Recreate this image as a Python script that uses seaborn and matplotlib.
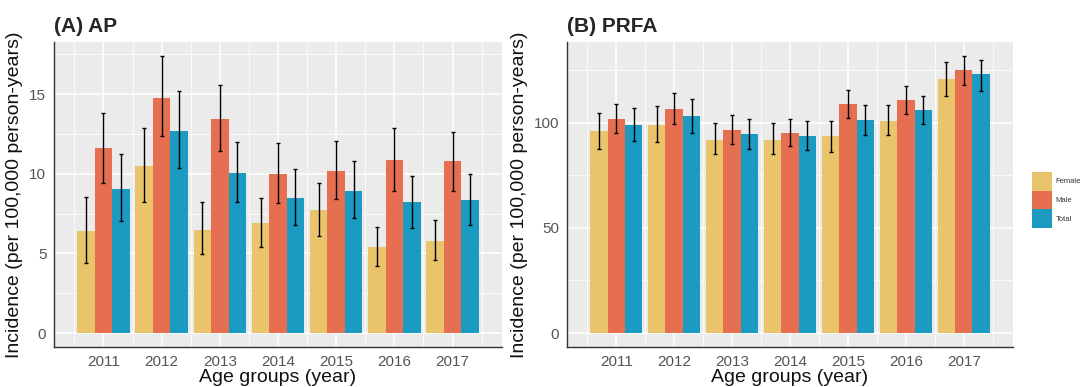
import numpy as np
import pandas as pd
import matplotlib
matplotlib.use("Agg")
import matplotlib.pyplot as plt
from matplotlib.ticker import MultipleLocator, FixedLocator
from matplotlib.patches import Patch
import seaborn as sns

years = ["2011", "2012", "2013", "2014", "2015", "2016", "2017"]
groups = ["Female", "Male", "Total"]
colors = ["#E9C46A", "#E76F51", "#1B9AC2"]

# (A) AP
ap_female = [6.4, 10.5, 6.5, 6.9, 7.7, 5.4, 5.8]
ap_female_lo = [4.4, 8.2, 4.95, 5.4, 6.1, 4.2, 4.6]
ap_female_hi = [8.55, 12.9, 8.25, 8.5, 9.45, 6.65, 7.1]
ap_male = [11.6, 14.75, 13.45, 10.0, 10.15, 10.85, 10.8]
ap_male_lo = [9.45, 12.4, 11.4, 8.15, 8.4, 8.95, 8.95]
ap_male_hi = [13.8, 17.4, 15.55, 11.95, 12.05, 12.9, 12.65]
ap_total = [9.05, 12.7, 10.05, 8.5, 8.95, 8.2, 8.35]
ap_total_lo = [7.05, 10.35, 8.25, 6.8, 7.25, 6.6, 6.8]
ap_total_hi = [11.25, 15.2, 12.0, 10.3, 10.8, 9.85, 10.0]

# (B) PRFA
pr_female = [95.9, 99.0, 91.9, 91.9, 93.5, 100.8, 120.5]
pr_female_lo = [87.3, 90.8, 84.9, 84.9, 86.0, 94.0, 112.7]
pr_female_hi = [104.8, 107.8, 99.8, 99.8, 100.6, 108.6, 128.7]
pr_male = [101.9, 106.3, 96.7, 95.0, 108.7, 110.6, 124.8]
pr_male_lo = [95.0, 99.5, 90.0, 88.7, 102.2, 104.0, 118.1]
pr_male_hi = [109.0, 114.3, 103.5, 101.6, 115.7, 117.3, 131.7]
pr_total = [99.0, 103.0, 94.4, 93.6, 101.1, 106.2, 122.9]
pr_total_lo = [91.2, 95.2, 87.6, 86.8, 94.1, 99.2, 115.0]
pr_total_hi = [107.1, 111.0, 101.9, 100.8, 108.4, 112.7, 129.8]

sns.set_theme(style="darkgrid")
plt.rcParams["font.family"] = ["Liberation Sans", "DejaVu Sans"]

def long_df(f, fl, fh, m, ml, mh, t, tl, th):
    rows = []
    for g, v, lo, hi in [("Female", f, fl, fh), ("Male", m, ml, mh), ("Total", t, tl, th)]:
        for y, a, b, c in zip(years, v, lo, hi):
            rows.append({"year": y, "group": g, "value": a, "lo": b, "hi": c})
    return pd.DataFrame(rows)

df_a = long_df(ap_female, ap_female_lo, ap_female_hi, ap_male, ap_male_lo, ap_male_hi,
               ap_total, ap_total_lo, ap_total_hi)
df_b = long_df(pr_female, pr_female_lo, pr_female_hi, pr_male, pr_male_lo, pr_male_hi,
               pr_total, pr_total_lo, pr_total_hi)

W, H = 1088, 387
fig = plt.figure(figsize=(W / 100, H / 100), dpi=100)
ax_a = fig.add_axes([54 / W, 1 - 347 / H, (502 - 54) / W, (347 - 42) / H])
ax_b = fig.add_axes([567 / W, 1 - 347 / H, (1013 - 567) / W, (347 - 42) / H])

def draw(ax, df, ylim, major, minor):
    sns.barplot(data=df, x="year", y="value", hue="group", hue_order=groups,
                order=years, palette=colors, width=0.9, gap=0, errorbar=None,
                saturation=1, legend=False, ax=ax, linewidth=0)
    for cont, g in zip(ax.containers, groups):
        sub = df[df["group"] == g].set_index("year").loc[years]
        xs = [b.get_x() + b.get_width() / 2 for b in cont]
        vals = sub["value"].values
        ax.errorbar(xs, vals, yerr=[vals - sub["lo"].values, sub["hi"].values - vals],
                    fmt="none", ecolor="black", elinewidth=1.0, capsize=1.5,
                    capthick=1.0, zorder=5)
    ax.set_facecolor("#EBEBEB")
    ax.set_xlim(-0.85, 6.85)
    ax.set_ylim(*ylim)
    ax.yaxis.set_major_locator(MultipleLocator(major))
    ax.yaxis.set_minor_locator(MultipleLocator(minor))
    ax.xaxis.set_minor_locator(FixedLocator(np.arange(-0.5, 7.0, 1.0)))
    ax.grid(which="major", axis="both", color="white", linewidth=1.1)
    ax.grid(which="minor", axis="both", color="white", linewidth=0.55)
    ax.set_axisbelow(True)
    for s in ["top", "right"]:
        ax.spines[s].set_visible(False)
    for s in ["left", "bottom"]:
        ax.spines[s].set_visible(True)
        ax.spines[s].set_color("#333333")
        ax.spines[s].set_linewidth(1.0)
    ax.tick_params(which="major", length=3, width=0.8, color="#333333",
                   labelsize=11, labelcolor="#555555", pad=2.5)
    ax.tick_params(which="minor", length=0)
    ax.set_xlabel("")
    ax.set_ylabel("")

draw(ax_a, df_a, (-0.87, 18.27), 5, 2.5)
draw(ax_b, df_b, (-6.6, 138.3), 50, 25)

ymid = 1 - 194.5 / H
fig.text(15 / W, ymid, "Incidence (per 100,000 person-years)", rotation=90,
         ha="center", va="center", fontsize=14, color="#111111")
fig.text(520 / W, ymid, "Incidence (per 100,000 person-years)", rotation=90,
         ha="center", va="center", fontsize=14, color="#111111")
fig.text(278 / W, 1 - 377 / H, "Age groups (year)", ha="center", va="center",
         fontsize=14, color="#111111")
fig.text(790 / W, 1 - 377 / H, "Age groups (year)", ha="center", va="center",
         fontsize=14, color="#111111")
fig.text(54 / W, 1 - 26 / H, "(A) AP", ha="left", va="center", fontsize=15,
         fontweight="bold")
fig.text(567 / W, 1 - 26 / H, "(B) PRFA", ha="left", va="center", fontsize=15,
         fontweight="bold")

handles = [Patch(facecolor=c, edgecolor="none", label=g) for c, g in zip(colors, groups)]
leg = fig.legend(handles=handles, loc="center left", bbox_to_anchor=(1032 / W, 1 - 200 / H),
                 frameon=False, fontsize=5.5, handlelength=2.6, handleheight=3.4,
                 labelspacing=0, handletextpad=0.5, borderpad=0, borderaxespad=0)
for t in leg.get_texts():
    t.set_color("#333333")

fig.savefig("out.png", dpi=100)
